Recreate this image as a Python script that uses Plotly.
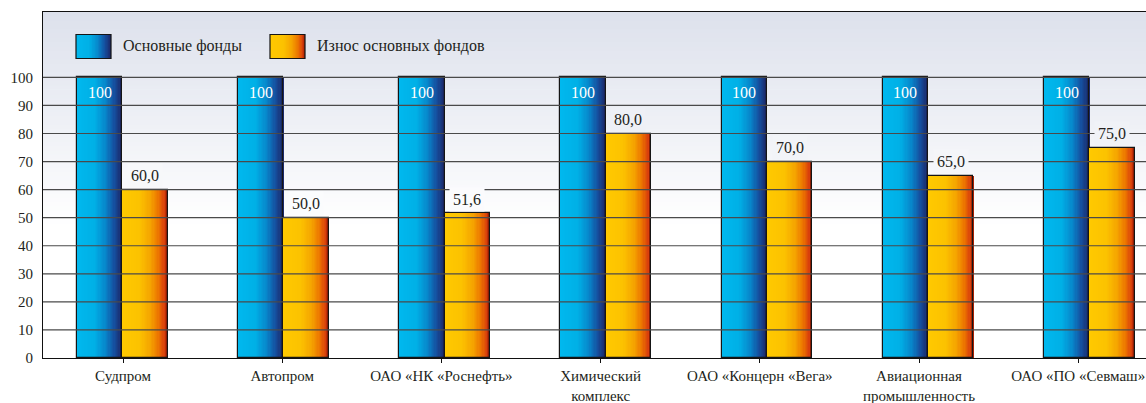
import plotly.graph_objects as go

# --- data -------------------------------------------------------------
categories = [
    "Судпром",
    "Автопром",
    "ОАО «НК «Роснефть»",
    "Химический<br>комплекс",
    "ОАО «Концерн «Вега»",
    "Авиационная<br>промышленность",
    "ОАО «ПО «Севмаш»",
]
osnovnye_fondy = [100, 100, 100, 100, 100, 100, 100]
iznos_fondov = [60.0, 50.0, 51.6, 80.0, 70.0, 65.0, 75.0]
y_ticks = [0, 10, 20, 30, 40, 50, 60, 70, 80, 90, 100]
series_names = ["Основные фонды", "Износ основных фондов"]

# --- geometry / style -------------------------------------------------
W_PX, H_PX = 1146, 403
M_L, M_R, M_T, M_B = 43, 0, 12, 45
PLOT_W = W_PX - M_L - M_R
PLOT_H = H_PX - M_T - M_B
Y_MAX = PLOT_H / 2.806

# bar groups and category captions sit on slightly different pitches
BAR_PITCH, BAR_ORIGIN = 161.18, 122.2
LBL_PITCH, LBL_ORIGIN = 159.19, 123.06
BAR_W = 45.3 / BAR_PITCH
X_RANGE = [(M_L - BAR_ORIGIN) / BAR_PITCH, (W_PX - BAR_ORIGIN) / BAR_PITCH]
X2_RANGE = [(M_L - LBL_ORIGIN) / LBL_PITCH, (W_PX - LBL_ORIGIN) / LBL_PITCH]

FONT = "Liberation Serif"
TEXT_COLOR = "#231f20"

BLUE_STOPS = [(0.0, "#00b8ee"), (0.38, "#00b0e6"), (0.62, "#0788cc"),
              (0.82, "#1550a0"), (1.0, "#1c2666")]
ORANGE_STOPS = [(0.0, "#ffc900"), (0.38, "#fcc200"), (0.62, "#f5a400"),
                (0.8, "#ec7400"), (0.93, "#d9400c"), (1.0, "#9c1800")]
BG_TOP = (221, 225, 236)


def hex2rgb(h):
    h = h.lstrip("#")
    return tuple(int(h[i:i + 2], 16) for i in (0, 2, 4))


def grad(stops, t):
    t = min(max(t, 0.0), 1.0)
    for (t0, c0), (t1, c1) in zip(stops, stops[1:]):
        if t <= t1:
            a, b = hex2rgb(c0), hex2rgb(c1)
            f = 0 if t1 == t0 else (t - t0) / (t1 - t0)
            return "rgb(%d,%d,%d)" % tuple(round(a[i] + (b[i] - a[i]) * f) for i in range(3))
    return "rgb(%d,%d,%d)" % hex2rgb(stops[-1][1])


def bg_at(yp):
    """Background colour of the plot area at paper height yp."""
    f = max(0.0, (yp - 0.38) / 0.62)
    return "rgb(%d,%d,%d)" % tuple(round(255 + (c - 255) * f) for c in BG_TOP)


def px2paper(px, py):
    return (px - M_L) / PLOT_W, (M_T + PLOT_H - py) / PLOT_H


fig = go.Figure()
x_idx = list(range(len(categories)))
N = 36

# gradient-filled bars: overlapping slices, each running to the bar's right edge
for values, stops, start in ((osnovnye_fondy, BLUE_STOPS, -BAR_W),
                             (iznos_fondov, ORANGE_STOPS, 0.0)):
    for k in range(N):
        step = BAR_W / N
        fig.add_trace(go.Bar(
            x=x_idx, y=values,
            offset=start + k * step, width=BAR_W - k * step,
            marker=dict(color=grad(stops, (k + 0.5) / N), line=dict(width=0)),
            showlegend=False, hoverinfo="skip",
        ))
    # outline
    fig.add_trace(go.Bar(
        x=x_idx, y=values, offset=start, width=BAR_W,
        marker=dict(color="rgba(0,0,0,0)", line=dict(color="#151515", width=1.2)),
        showlegend=False, hoverinfo="skip",
    ))

# category axis carrier (keeps the caption axis alive)
fig.add_trace(go.Scatter(
    x=x_idx, y=[0] * len(x_idx), xaxis="x2", yaxis="y",
    mode="markers", marker=dict(opacity=0, size=1),
    showlegend=False, hoverinfo="skip",
))

shapes = []
# plot background gradient
STRIPS = 80
for s in range(STRIPS):
    y0, y1 = s / STRIPS, (s + 1) / STRIPS
    shapes.append(dict(type="rect", xref="paper", yref="paper", x0=0, x1=1,
                       y0=y0, y1=y1 + 0.002, fillcolor=bg_at((y0 + y1) / 2),
                       line=dict(width=0), layer="below"))
# grid lines drawn over the bars
for v in y_ticks[1:]:
    shapes.append(dict(type="line", xref="paper", yref="y", x0=0, x1=1, y0=v, y1=v,
                       line=dict(color="#4a4a4a", width=1.2), layer="above"))

# legend swatches
annotations = []
for name, stops, sx, tx in ((series_names[0], BLUE_STOPS, 76, 121),
                            (series_names[1], ORANGE_STOPS, 270, 315)):
    sw, y_top, y_bot = 35, 34.5, 58.5
    n = 24
    for k in range(n):
        x0, y0 = px2paper(sx + k * sw / n, y_bot)
        x1, y1 = px2paper(sx + sw, y_top)
        shapes.append(dict(type="rect", xref="paper", yref="paper", x0=x0, x1=x1,
                           y0=y0, y1=y1, fillcolor=grad(stops, (k + 0.5) / n),
                           line=dict(width=0), layer="above"))
    x0, y0 = px2paper(sx, y_bot)
    x1, y1 = px2paper(sx + sw, y_top)
    shapes.append(dict(type="rect", xref="paper", yref="paper", x0=x0, x1=x1,
                       y0=y0, y1=y1, line=dict(color="#151515", width=1.2),
                       layer="above"))
    ax, ay = px2paper(tx, (y_top + y_bot) / 2)
    annotations.append(dict(xref="paper", yref="paper", x=ax, y=ay, text=name,
                            showarrow=False, xanchor="left", yanchor="middle",
                            font=dict(family=FONT, size=16, color=TEXT_COLOR)))

# value labels
for i, v in enumerate(osnovnye_fondy):
    annotations.append(dict(x=i - BAR_W / 2, y=v, xref="x", yref="y", text=str(v),
                            showarrow=False, yanchor="middle", yshift=-15,
                            font=dict(family=FONT, size=16, color="white")))
for i, v in enumerate(iznos_fondov):
    yp = v / Y_MAX + 14 / PLOT_H
    annotations.append(dict(x=i + BAR_W / 2, y=v, xref="x", yref="y",
                            text=f"{v:.1f}".replace(".", ","),
                            showarrow=False, yanchor="middle", yshift=14,
                            bgcolor=bg_at(yp), borderpad=3,
                            font=dict(family=FONT, size=16, color=TEXT_COLOR)))

fig.update_layout(
    width=W_PX, height=H_PX,
    margin=dict(l=M_L, r=M_R, t=M_T, b=M_B, pad=0),
    paper_bgcolor="white", plot_bgcolor="white",
    barmode="overlay", bargap=0,
    showlegend=False,
    shapes=shapes, annotations=annotations,
    font=dict(family=FONT, size=15, color=TEXT_COLOR),
    xaxis=dict(range=X_RANGE, showticklabels=False, ticks="",
               showgrid=False, zeroline=False, showline=True, linecolor="#111",
               linewidth=1.2, mirror=True),
    xaxis2=dict(range=X2_RANGE, overlaying="x", anchor="y", side="bottom",
                tickmode="array", tickvals=x_idx, ticktext=categories,
                showgrid=False, zeroline=False, showline=False,
                ticks="outside", ticklen=4, tickcolor="#111",
                ticklabeloverflow="allow",
                tickfont=dict(family=FONT, size=15, color=TEXT_COLOR)),
    yaxis=dict(range=[0, Y_MAX], tickmode="array", tickvals=y_ticks,
               showgrid=False, zeroline=False, showline=True, linecolor="#111",
               linewidth=1.2, ticks="", ticklabelstandoff=6,
               tickfont=dict(family=FONT, size=15, color=TEXT_COLOR)),
)

fig.write_html("out.html")
